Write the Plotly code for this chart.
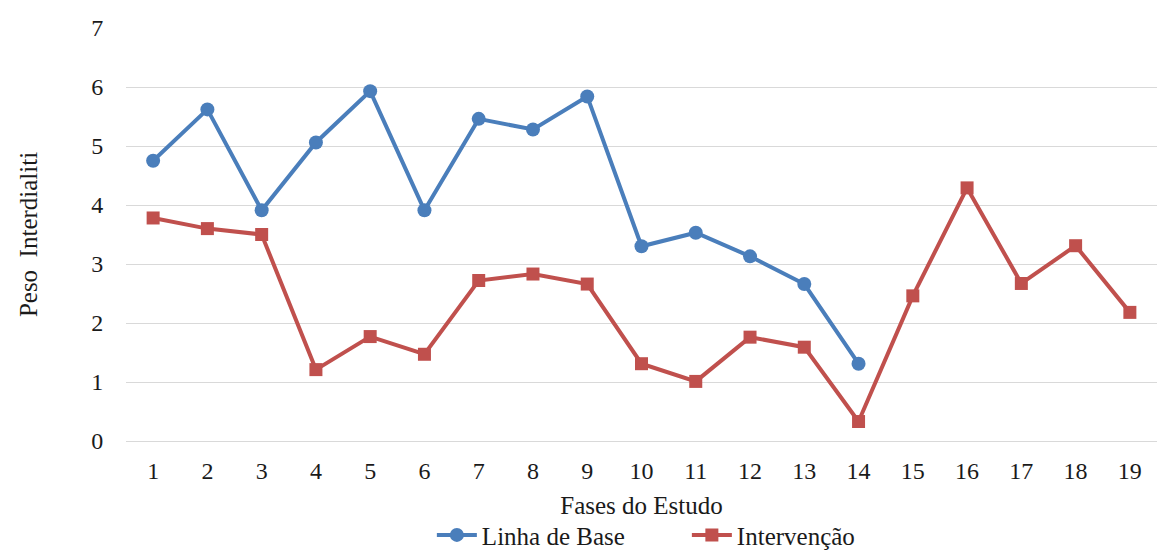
import plotly.graph_objects as go

fases = list(range(1, 20))
linha_base = [4.75, 5.62, 3.91, 5.06, 5.93, 3.91, 5.46, 5.28, 5.84, 3.30, 3.53, 3.13, 2.66, 1.31]
intervencao = [3.78, 3.60, 3.50, 1.21, 1.77, 1.47, 2.72, 2.83, 2.66, 1.31, 1.01, 1.76, 1.59, 0.33,
               2.46, 4.29, 2.67, 3.31, 2.18]
y_ticks = [0, 1, 2, 3, 4, 5, 6, 7]

BLUE = "#4a7ebb"
RED = "#c0504d"
FONT = "Liberation Serif"

fig = go.Figure()
fig.add_trace(go.Scatter(
    x=fases[:len(linha_base)], y=linha_base, name="Linha de Base",
    mode="lines+markers",
    line=dict(color=BLUE, width=4),
    marker=dict(symbol="circle", size=14, color=BLUE),
))
fig.add_trace(go.Scatter(
    x=fases, y=intervencao, name="Intervenção",
    mode="lines+markers",
    line=dict(color=RED, width=4),
    marker=dict(symbol="square", size=13, color=RED),
))

fig.update_layout(
    width=1157, height=552,
    margin=dict(l=126, r=0, t=28, b=111, autoexpand=False),
    paper_bgcolor="white", plot_bgcolor="white",
    font=dict(family=FONT, size=24, color="#1a1a1a"),
    showlegend=True,
    legend=dict(orientation="h", x=0.544, xanchor="center", y=-0.228, yanchor="middle",
                font=dict(family=FONT, size=25, color="#1a1a1a"),
                entrywidth=200, itemwidth=40, tracegroupgap=0),
    xaxis=dict(
        range=[0.5, 19.5], tickmode="array", tickvals=fases, ticktext=[str(f) for f in fases],
        showgrid=False, zeroline=False, showline=False, automargin=False,
        ticks="outside", ticklen=8, tickcolor="rgba(0,0,0,0)",
        tickfont=dict(family=FONT, size=24),
        title=dict(text="Fases do Estudo", font=dict(family=FONT, size=25), standoff=13),
    ),
    yaxis=dict(
        range=[0, 7], tickmode="array", tickvals=y_ticks, automargin=False,
        showgrid=True, gridcolor="#d9d9d9", gridwidth=1,
        zeroline=True, zerolinecolor="#d9d9d9", zerolinewidth=1,
        ticks="outside", ticklen=17, tickcolor="rgba(0,0,0,0)",
        tickfont=dict(family=FONT, size=24),
        title=dict(text="Peso  Interdialiti", font=dict(family=FONT, size=25), standoff=46),
    ),
)

fig.write_html("out.html")
